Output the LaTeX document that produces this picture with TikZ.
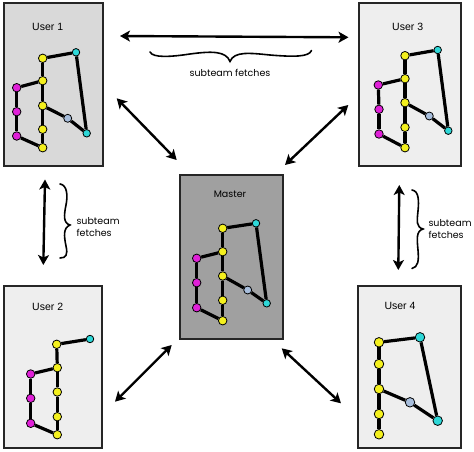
\documentclass[tikz,border=0pt]{standalone}
\usepackage{fontspec}
\setmainfont{Liberation Sans}
\newfontfamily\handfont{Poppins}
\usetikzlibrary{arrows.meta}
\definecolor{cyel}{HTML}{F4F01E}
\definecolor{cmag}{HTML}{E020D8}
\definecolor{ccy}{HTML}{2ED8D8}
\definecolor{clb}{HTML}{A8BEDC}
\definecolor{ubox}{HTML}{D9D9D9}
\definecolor{lbox}{HTML}{EEEEEE}
\definecolor{mbox}{HTML}{A0A0A0}
\tikzset{
  panel/.style={draw=black!85, line width=1.6pt, anchor=north west, inner sep=0pt},
  dot/.style={circle, draw=black, line width=0.8pt, inner sep=0pt, minimum size=8.5pt},
  ny/.style={dot, fill=cyel},
  nm/.style={dot, fill=cmag},
  nc/.style={dot, fill=ccy, minimum size=7.5pt},
  nl/.style={dot, fill=clb, minimum size=8pt},
  gedge/.style={line width=3.2pt},
  ulabel/.style={font=\fontsize{10.5}{12}\selectfont},
  hlabel/.style={font=\handfont\fontsize{9.5}{12}\selectfont, align=left},
  twoway/.style={line width=2.4pt, {Stealth[length=10pt,width=11pt,inset=2.5pt]}-{Stealth[length=10pt,width=11pt,inset=2.5pt]}},
  brace/.style={line width=1.6pt, line cap=round}
}
\begin{document}
\begin{tikzpicture}[x=1pt,y=-1pt]
\useasboundingbox (0,0) rectangle (474,451);
% panels
\node[panel, fill=ubox, minimum width=99pt, minimum height=163pt] (p1) at (3,2) {};
\node[panel, fill=lbox, minimum width=102pt, minimum height=163pt] (p3) at (358,2) {};
\node[panel, fill=mbox, minimum width=103pt, minimum height=164pt] (pm) at (179,174) {};
\node[panel, fill=lbox, minimum width=98pt, minimum height=162pt] (p2) at (3,285) {};
\node[panel, fill=lbox, minimum width=103pt, minimum height=162pt] (p4) at (357,285) {};
% labels
\node[ulabel] (l1) at (47.7,26.7) {User 1};
\node[ulabel] (l3) at (407.7,26.7) {User 3};
\node[hlabel] (lm) at (230,194) {Master};
\node[ulabel] (l2) at (47.7,306.7) {User 2};
\node[ulabel] (l4) at (400,306) {User 4};
% User 1 graph
\node[ny] (u1a) at (42.7,58.3) {};
\node[nc] (u1c1) at (76,52.3) {};
\node[ny] (u1b) at (42.7,80.7) {};
\node[nm] (u1m1) at (16.7,87.7) {};
\node[ny] (u1d) at (42.7,105.7) {};
\node[nm] (u1m2) at (16.7,111.7) {};
\node[nl] (u1l) at (67.7,118.3) {};
\node[ny] (u1e) at (42.7,129.3) {};
\node[nm] (u1m3) at (16.7,136) {};
\node[nc] (u1c2) at (86.7,133.3) {};
\node[ny] (u1f) at (42.7,147.7) {};
\draw[gedge] (u1a) -- (u1c1); \draw[gedge] (u1c1) -- (u1c2);
\draw[gedge] (u1a) -- (u1b); \draw[gedge] (u1b) -- (u1d); \draw[gedge] (u1d) -- (u1e); \draw[gedge] (u1e) -- (u1f);
\draw[gedge] (u1b) -- (u1m1); \draw[gedge] (u1m1) -- (u1m2); \draw[gedge] (u1m2) -- (u1m3); \draw[gedge] (u1m3) -- (u1f);
\draw[gedge] (u1d) -- (u1l); \draw[gedge] (u1l) -- (u1c2);
% User 3 graph
\node[ny] (u3a) at (405,55.7) {};
\node[nc] (u3c1) at (437.7,50) {};
\node[ny] (u3b) at (405,78.7) {};
\node[nm] (u3m1) at (378.3,85) {};
\node[ny] (u3d) at (405,102.7) {};
\node[nm] (u3m2) at (379,109.3) {};
\node[nl] (u3l) at (429.3,116) {};
\node[ny] (u3e) at (405,127.3) {};
\node[nm] (u3m3) at (379,134) {};
\node[nc] (u3c2) at (448.3,130.7) {};
\node[ny] (u3f) at (405,147.7) {};
\draw[gedge] (u3a) -- (u3c1); \draw[gedge] (u3c1) -- (u3c2);
\draw[gedge] (u3a) -- (u3b); \draw[gedge] (u3b) -- (u3d); \draw[gedge] (u3d) -- (u3e); \draw[gedge] (u3e) -- (u3f);
\draw[gedge] (u3b) -- (u3m1); \draw[gedge] (u3m1) -- (u3m2); \draw[gedge] (u3m2) -- (u3m3); \draw[gedge] (u3m3) -- (u3f);
\draw[gedge] (u3d) -- (u3l); \draw[gedge] (u3l) -- (u3c2);
% Master graph
\node[ny] (ma) at (222.7,228.3) {};
\node[nc] (mc1) at (256,223.3) {};
\node[ny] (mb) at (222.7,251.7) {};
\node[nm] (mm1) at (196.7,258.3) {};
\node[ny] (md) at (222.7,276) {};
\node[nm] (mm2) at (196.7,282.7) {};
\node[nl] (ml) at (247.7,290) {};
\node[ny] (me) at (222.7,300.3) {};
\node[nm] (mm3) at (196.7,307.7) {};
\node[nc] (mc2) at (266.7,303.3) {};
\node[ny] (mf) at (222.7,320.7) {};
\draw[gedge] (ma) -- (mc1); \draw[gedge] (mc1) -- (mc2);
\draw[gedge] (ma) -- (mb); \draw[gedge] (mb) -- (md); \draw[gedge] (md) -- (me); \draw[gedge] (me) -- (mf);
\draw[gedge] (mb) -- (mm1); \draw[gedge] (mm1) -- (mm2); \draw[gedge] (mm2) -- (mm3); \draw[gedge] (mm3) -- (mf);
\draw[gedge] (md) -- (ml); \draw[gedge] (ml) -- (mc2);
% User 2 graph
\node[ny] (u2a) at (56.7,344.3) {};
\node[nc] (u2c1) at (90,339) {};
\node[ny] (u2b) at (57.3,367.7) {};
\node[nm] (u2m1) at (30.7,374) {};
\node[ny] (u2d) at (57.3,392) {};
\node[nm] (u2m2) at (30.7,398.3) {};
\node[ny] (u2e) at (57.3,416.7) {};
\node[nm] (u2m3) at (30.7,423.3) {};
\node[ny] (u2f) at (57.3,434.7) {};
\draw[gedge] (u2a) -- (u2c1);
\draw[gedge] (u2a) -- (u2b); \draw[gedge] (u2b) -- (u2d); \draw[gedge] (u2d) -- (u2e); \draw[gedge] (u2e) -- (u2f);
\draw[gedge] (u2b) -- (u2m1); \draw[gedge] (u2m1) -- (u2m2); \draw[gedge] (u2m2) -- (u2m3); \draw[gedge] (u2m3) -- (u2f);
% User 4 graph
\node[ny, minimum size=9.5pt] (u4a) at (379,342.3) {};
\node[nc, minimum size=9.5pt] (u4c1) at (420,337.3) {};
\node[ny, minimum size=9.5pt] (u4b) at (379,364) {};
\node[ny, minimum size=9.5pt] (u4d) at (379,389) {};
\node[nl, minimum size=9.5pt] (u4l) at (410,402.3) {};
\node[ny, minimum size=9.5pt] (u4e) at (379,414) {};
\node[nc, minimum size=9.5pt] (u4c2) at (437.7,420.7) {};
\node[ny, minimum size=9.5pt] (u4f) at (379,434.3) {};
\draw[gedge] (u4a) -- (u4c1); \draw[gedge] (u4c1) -- (u4c2);
\draw[gedge] (u4a) -- (u4b); \draw[gedge] (u4b) -- (u4d); \draw[gedge] (u4d) -- (u4e); \draw[gedge] (u4e) -- (u4f);
\draw[gedge] (u4d) -- (u4l); \draw[gedge] (u4l) -- (u4c2);
% two-way arrows
\coordinate (t1) at (120,36); \coordinate (t2) at (348.5,37.3);
\draw[twoway] (t1) -- (t2);
\coordinate (v1) at (45,179.5); \coordinate (v2) at (43.3,265);
\draw[twoway] (v1) -- (v2);
\coordinate (w1) at (399.3,185); \coordinate (w2) at (398.3,270);
\draw[twoway] (w1) -- (w2);
\coordinate (d1a) at (116.7,98.3); \coordinate (d1b) at (176.7,160);
\draw[twoway] (d1a) -- (d1b);
\coordinate (d3a) at (348.3,105); \coordinate (d3b) at (285,165);
\draw[twoway] (d3a) -- (d3b);
\coordinate (d2a) at (171.7,345); \coordinate (d2b) at (115,401.7);
\draw[twoway] (d2a) -- (d2b);
\coordinate (d4a) at (281.7,348.3); \coordinate (d4b) at (341,403.3);
\draw[twoway] (d4a) -- (d4b);
% braces
\draw[brace] (150,52) .. controls (153,58) and (170,57) .. (190,54) .. controls (212,51) and (226,51) .. (230,61.5) .. controls (234,51) and (250,53) .. (270,55) .. controls (294,57) and (309,57) .. (311.5,50.5);
\draw[brace] (60,184) .. controls (67,185) and (68,195) .. (66,205) .. controls (64,215) and (63,223) .. (70,225) .. controls (63,228) and (64,236) .. (66,246) .. controls (68,255) and (66,258) .. (60,258);
\draw[brace] (412,190) .. controls (419,191) and (419,201) .. (418,211) .. controls (417,221) and (416,227) .. (423,229) .. controls (416,231) and (417,239) .. (418,250) .. controls (419,261) and (418,267) .. (412,268.5);
\node[hlabel] (s1) at (230,72.5) {subteam fetches};
\node[hlabel, anchor=west] (s2) at (73,227) {subteam\\fetches};
\node[hlabel, anchor=west] (s3) at (425,229) {subteam\\fetches};
\end{tikzpicture}
\end{document}
